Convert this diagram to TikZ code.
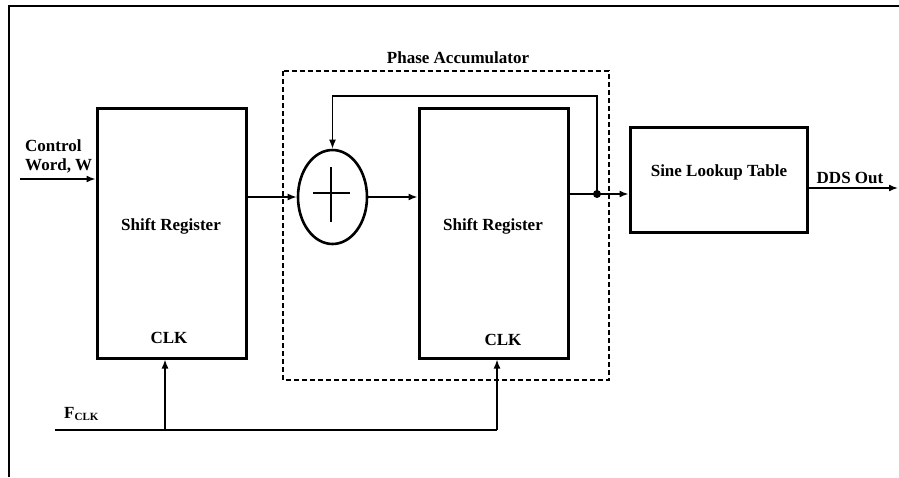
\documentclass[tikz,border=0pt]{standalone}
\usepackage{fontspec}
\setmainfont{Liberation Serif}
\usepackage{tikz}
\usetikzlibrary{arrows.meta,positioning,shapes.geometric,calc}
\tikzset{
  blk/.style={draw=black,line width=3pt,fill=white,inner sep=0pt},
  sumn/.style={draw=black,line width=2.6pt,ellipse,inner sep=0pt,minimum width=69pt,minimum height=94pt},
  grp/.style={draw=black,line width=1.5pt,dash pattern=on 5pt off 3pt},
  fl/.style={-{Latex[length=9pt,width=7pt]},draw=black,line width=1.6pt},
  wire/.style={draw=black,line width=1.6pt},
  lbl/.style={font=\fontsize{17}{19}\selectfont\bfseries,inner sep=0pt},
}
\begin{document}
\begin{tikzpicture}[x=1pt,y=-1pt]
\useasboundingbox (0,0) rectangle (899,477);
% outer frame (cut at right and bottom)
\draw[line width=2.8pt] (9,477) -- (9,6) -- (899,6);
% phase accumulator group
\draw[grp] (283,71) rectangle (609,380);
\node[lbl] (pacc) at (458,58) {Phase Accumulator};
% blocks
\node[blk,minimum width=149pt,minimum height=250pt] (sr1) at (171.5,233) {};
\node[blk,minimum width=149pt,minimum height=250pt] (sr2) at (493.5,233) {};
\node[blk,minimum width=177pt,minimum height=105pt] (lut) at (718.5,179.5) {};
\node[sumn] (add) at (332.5,197) {};
\draw[line width=1.6pt] (313,193) -- (350,193) (331,167) -- (331,222);
% block texts
\node[lbl] (sr1t) at (171,226) {Shift Register};
\node[lbl] (sr1c) at (169,338) {CLK};
\node[lbl] (sr2t) at (493,226) {Shift Register};
\node[lbl] (sr2c) at (503,340) {CLK};
\node[lbl] (lutt) at (719,172) {Sine Lookup Table};
\node[lbl,align=left,anchor=west] (cwt) at (25,156) {Control\\Word, W};
\node[lbl] (ddst) at (850,178) {DDS Out};
\node[lbl,anchor=west] (fclkt) at (64,414) {F\raisebox{-0.35ex}{\fontsize{11}{13}\selectfont CLK}};
% connectors
\coordinate (cw) at (20,179);
\coordinate (jn) at (597,194);
\coordinate (fb) at (597,96);
\coordinate (out) at (898,188);
\coordinate (fclk) at (55,430);
\coordinate (ck1) at (165,430);
\coordinate (ck2) at (497,430);
\draw[fl] (cw) -- (cw -| sr1.west);
\draw[fl] (sr1.east |- add.west) -- (add.west);
\draw[fl] (add.east) -- (add.east -| sr2.west);
\draw[wire] (sr2.east |- jn) -- (jn);
\draw[fl] (jn) -- (jn -| lut.west);
\draw[fl] (jn) -- (fb) -| (add.north);
\fill (jn) circle (4pt);
\draw[fl] (out -| lut.east) -- (out);
\draw[wire] (fclk) -- (ck2);
\draw[fl] (ck1) -- (ck1 |- sr1.south);
\draw[fl] (ck2) -- (ck2 |- sr2.south);
\end{tikzpicture}
\end{document}
